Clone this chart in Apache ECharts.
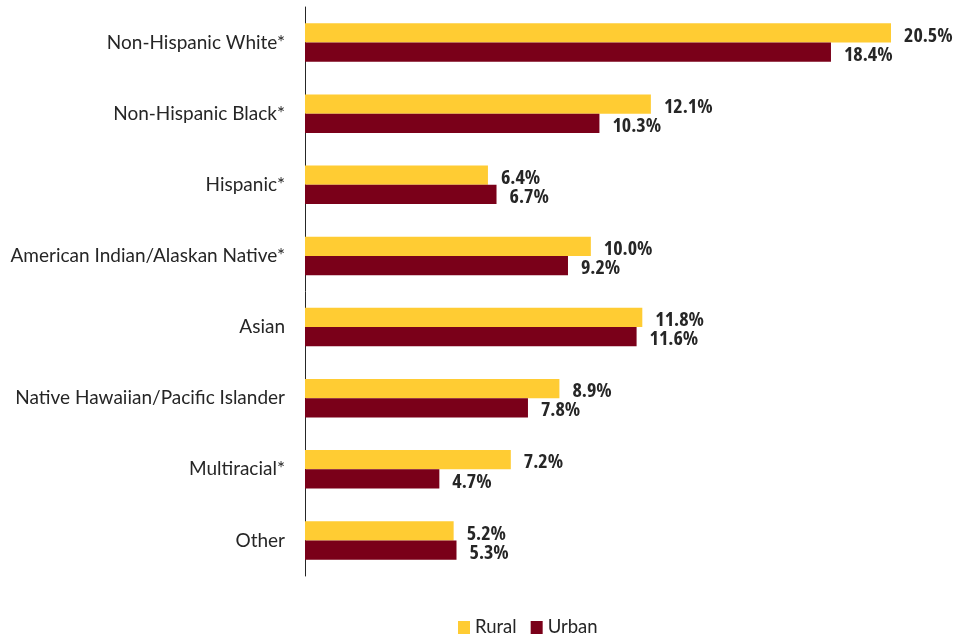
<!DOCTYPE html>
<html><head><meta charset="utf-8">
<script src="https://cdn.jsdelivr.net/npm/echarts@6/dist/echarts.min.js"></script>
<style>html,body{margin:0;padding:0;background:#fff}#c{width:959px;height:639px}</style>
</head><body><div id="c"></div>
<script>
const categories = ["Non-Hispanic White*","Non-Hispanic Black*","Hispanic*","American Indian/Alaskan Native*","Asian","Native Hawaiian/Pacific Islander","Multiracial*","Other"];
const rural = [20.5,12.1,6.4,10.0,11.8,8.9,7.2,5.2];
const urban = [18.4,10.3,6.7,9.2,11.6,7.8,4.7,5.3];
const seriesNames = ["Rural","Urban"];
const FONT = "Lato,'Open Sans',sans-serif";
const chart = echarts.init(document.getElementById('c'));
const lbl = {show:true, position:'right', distance:13, offset:[0,3], formatter: p => p.value.toFixed(1)+'%', color:'#262626', fontWeight:'bold condensed', fontSize:20, fontFamily:"'Open Sans',sans-serif"};
chart.setOption({
  animation:false,
  grid:{left:305, top:7, width:586, height:569, containLabel:false},
  xAxis:{type:'value', min:0, max:20.5, show:false},
  yAxis:{type:'category', data:categories, inverse:true,
    axisLine:{show:true, lineStyle:{color:'#262626', width:1}},
    axisTick:{show:false},
    axisLabel:{color:'#262626', fontSize:19, fontFamily:FONT, margin:20}},
  legend:{top:613, left:453, itemWidth:12, itemHeight:13, itemGap:14,
    textStyle:{color:'#262626', fontSize:18.5, fontFamily:FONT}, icon:'rect'},
  series:[
    {name:seriesNames[0], type:'bar', data:rural, barGap:'0%', barCategoryGap:'46%', itemStyle:{color:'#FFCC33'}, label:lbl},
    {name:seriesNames[1], type:'bar', data:urban, itemStyle:{color:'#7A0019'}, label:lbl}
  ]
});
</script></body></html>
